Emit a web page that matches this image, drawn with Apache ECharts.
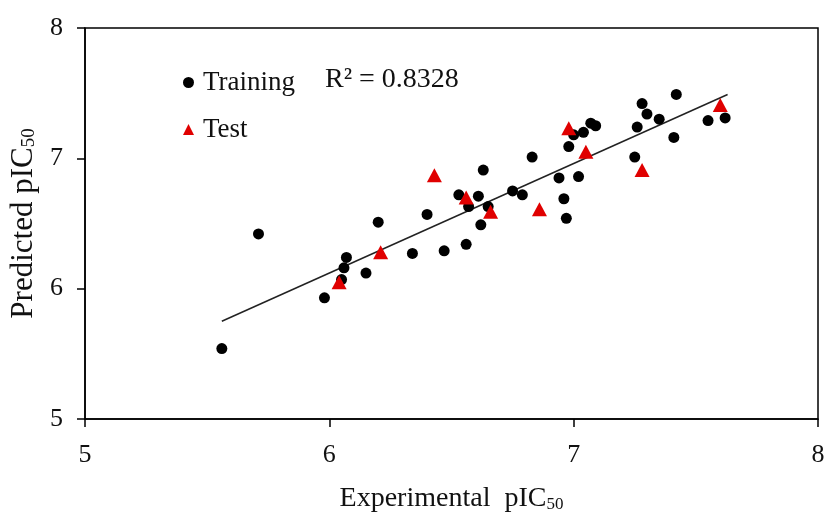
<!DOCTYPE html>
<html>
<head>
<meta charset="utf-8">
<script src="https://cdn.jsdelivr.net/npm/echarts@6/dist/echarts.min.js"></script>
<style>
html,body{margin:0;padding:0;background:#fff;}
#chart{width:826px;height:512px;}
</style>
</head>
<body>
<div id="chart"></div>
<script>
// Axis ticks
const xTicks = [5, 6, 7, 8];
const yTicks = [5, 6, 7, 8];

// Training set: experimental (x) and predicted (y)
const trainX = [5.56, 5.71, 5.98, 6.05, 6.06, 6.07, 6.15, 6.20, 6.34, 6.40, 6.47, 6.53, 6.56, 6.57, 6.61, 6.62, 6.63, 6.65, 6.75, 6.79, 6.83, 6.94, 6.96, 6.97, 6.98, 7.00, 7.02, 7.04, 7.07, 7.09, 7.25, 7.26, 7.28, 7.30, 7.35, 7.41, 7.42, 7.55, 7.62];
const trainY = [5.54, 6.42, 5.93, 6.07, 6.16, 6.24, 6.12, 6.51, 6.27, 6.57, 6.29, 6.72, 6.34, 6.63, 6.71, 6.49, 6.91, 6.63, 6.75, 6.72, 7.01, 6.85, 6.69, 6.54, 7.09, 7.18, 6.86, 7.20, 7.27, 7.25, 7.01, 7.24, 7.42, 7.34, 7.30, 7.16, 7.49, 7.29, 7.31];

// Test set
const testX = [6.04, 6.21, 6.43, 6.56, 6.66, 6.86, 6.98, 7.05, 7.28, 7.60];
const testY = [6.05, 6.28, 6.87, 6.70, 6.59, 6.61, 7.23, 7.05, 6.91, 7.41];

// Regression line end points
const fitX = [5.56, 7.63];
const fitY = [5.75, 7.49];

const seriesNames = ['Training', 'Test'];
const r2Label = 'R\u00B2 = 0.8328';

const FONT = '"Liberation Serif", "Times New Roman", serif';

function pairs(xs, ys) { return xs.map((x, i) => [x, ys[i]]); }

const chart = echarts.init(document.getElementById('chart'), null, {renderer: 'canvas'});

function nameRich(size) {
  return {
    n: {fontFamily: FONT, fontSize: size, color: '#111'},
    s: {fontFamily: FONT, fontSize: Math.round(size * 0.6), color: '#111', verticalAlign: 'bottom', lineHeight: Math.round(size * 0.55)}
  };
}

chart.setOption({
  backgroundColor: '#fff',
  animation: false,
  grid: {left: 85, right: 8, top: 28, bottom: 93, outerBoundsMode: 'none', containLabel: false, show: true, borderColor: '#000', borderWidth: 1.5, backgroundColor: 'transparent'},
  legend: {
    orient: 'vertical',
    left: 178,
    top: 64,
    itemGap: 20,
    itemWidth: 11,
    itemHeight: 11,
    data: [
      {name: seriesNames[0], icon: 'circle', itemStyle: {color: '#000'}},
      {name: seriesNames[1], icon: 'triangle', itemStyle: {color: '#e00000'}}
    ],
    textStyle: {fontFamily: FONT, fontSize: 27, color: '#111', padding: [0, 0, 0, 4]}
  },
  graphic: [{
    type: 'text',
    left: 325,
    top: 66,
    style: {text: r2Label, font: '28px ' + FONT, fill: '#111'}
  }],
  xAxis: {
    type: 'value',
    min: 5, max: 8, interval: 1,
    name: '{n|Experimental  pIC}{s|50}',
    nameLocation: 'middle',
    nameGap: 66,
    nameTextStyle: {rich: nameRich(28)},
    axisLine: {show: true, onZero: false, lineStyle: {color: '#000', width: 1.5}},
    axisTick: {show: true, inside: false, length: 8, lineStyle: {color: '#000', width: 1.5}},
    axisLabel: {margin: 23, fontFamily: FONT, fontSize: 26, color: '#111', formatter: v => xTicks.includes(v) ? String(v) : ''},
    splitLine: {show: false}
  },
  yAxis: {
    type: 'value',
    min: 5, max: 8, interval: 1,
    name: '{n|Predicted pIC}{s|50}',
    nameLocation: 'middle',
    nameRotate: 90,
    nameGap: 46,
    nameTextStyle: {rich: nameRich(31)},
    axisLine: {show: true, onZero: false, lineStyle: {color: '#000', width: 1.5}},
    axisTick: {show: true, inside: false, length: 8, lineStyle: {color: '#000', width: 1.5}},
    axisLabel: {margin: 22, fontFamily: FONT, fontSize: 26, color: '#111', formatter: v => yTicks.includes(v) ? String(v) : ''},
    splitLine: {show: false}
  },
  series: [
    {
      name: 'fit',
      type: 'line',
      data: pairs(fitX, fitY),
      symbol: 'none',
      lineStyle: {color: '#222', width: 1.5},
      silent: true,
      z: 1
    },
    {
      name: seriesNames[0],
      type: 'scatter',
      data: pairs(trainX, trainY),
      symbol: 'circle',
      symbolSize: 11,
      itemStyle: {color: '#000', opacity: 1},
      z: 2
    },
    {
      name: seriesNames[1],
      type: 'scatter',
      data: pairs(testX, testY),
      symbol: 'triangle',
      symbolSize: [15, 14],
      itemStyle: {color: '#e00000', opacity: 1},
      z: 3
    }
  ]
});
</script>
</body>
</html>
